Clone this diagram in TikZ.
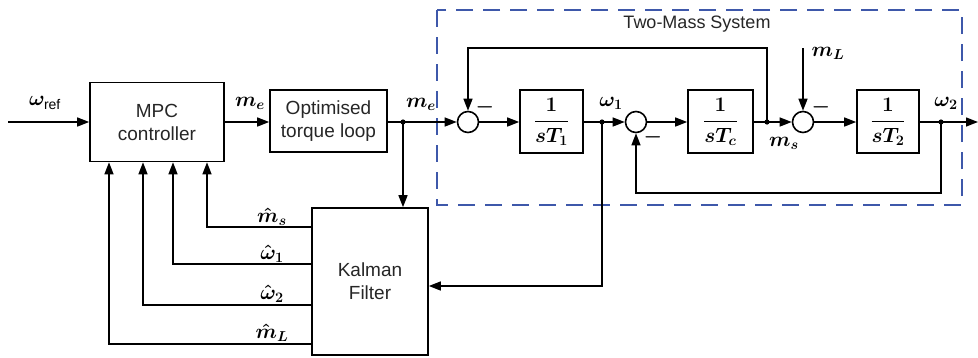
\documentclass[tikz,border=0pt]{standalone}
\usepackage{amsmath,bm}
\usepackage{fontspec}
\setmainfont{Liberation Sans}
\usetikzlibrary{arrows.meta,calc}
\definecolor{dashblue}{RGB}{62,88,170}
\begin{document}
\begin{tikzpicture}[x=1pt,y=-1pt, line width=1.4pt,
  txt/.style={font=\fontsize{19}{23}\selectfont, align=center, text=black!85},
  blk/.style={draw, line width=1.6pt, inner sep=0pt},
  sumc/.style={circle, draw, line width=1.6pt, minimum size=21pt, inner sep=0pt},
  arr/.style={-{Triangle[length=12pt,width=9pt]}},
  lbl/.style={font=\fontsize{20}{22}\selectfont\boldmath, inner sep=0pt},
  frac/.style={font=\fontsize{22}{24}\selectfont\boldmath}]
\useasboundingbox (0,0) rectangle (978,357);

% dashed system boundary
\draw[dashblue, line width=2.4pt, dash pattern=on 17pt off 10pt] (437,10) rectangle (962,205);
\node[txt, font=\fontsize{18}{20}\selectfont] (tms) at (697,24) {Two-Mass System};

% blocks
\node[blk, txt, minimum width=134pt, minimum height=79pt] (mpc) at (157,122) {MPC\\controller};
\node[blk, txt, minimum width=117pt, minimum height=62pt] (opt) at (328.5,121) {Optimised\\torque loop};
\node[blk, txt, minimum width=116pt, minimum height=147pt] (kf) at (370,281.5) {Kalman\\Filter};
\node[blk, frac, minimum width=63pt, minimum height=63pt] (T1) at (551.5,121.5) {$\displaystyle\frac{1}{sT_1}$};
\node[blk, frac, minimum width=65pt, minimum height=63pt] (Tc) at (720.5,121.5) {$\displaystyle\frac{1}{sT_c}$};
\node[blk, frac, minimum width=62pt, minimum height=63pt] (T2) at (888,121.5) {$\displaystyle\frac{1}{sT_2}$};

% summing junctions
\node[sumc] (c1) at (468,122) {};
\node[sumc] (c2) at (636,122) {};
\node[sumc] (c3) at (803,122) {};

% branch points
\coordinate (j1) at (403,122);
\coordinate (j2) at (602,122);
\coordinate (j3) at (767,122);
\coordinate (j4) at (941,122);

% free ends / corners
\coordinate (in) at (8,122);
\coordinate (out) at (978,122);
\coordinate (fb1) at (767,48);
\coordinate (mL) at (803,48);
\coordinate (fb2) at (941,193);
\coordinate (fb3) at (602,286);
\coordinate (k1) at (312,227);
\coordinate (k2) at (312,264);
\coordinate (k3) at (312,305);
\coordinate (k4) at (312,344);

% main path
\draw[arr] (in) -- (mpc.west |- in);
\draw[arr] (mpc.east |- in) -- (opt.west |- in);
\draw (opt.east |- j1) -- (j1);
\draw[arr] (j1) -- (c1);
\draw[arr] (c1) -- (T1.west |- c1);
\draw (T1.east |- j2) -- (j2);
\draw[arr] (j2) -- (c2);
\draw[arr] (c2) -- (Tc.west |- c2);
\draw (Tc.east |- j3) -- (j3);
\draw[arr] (j3) -- (c3);
\draw[arr] (c3) -- (T2.west |- c3);
\draw (T2.east |- j4) -- (j4);
\draw[arr] (j4) -- (out);

% feedback loops
\draw[arr] (j3) -- (fb1) -| (c1.north);
\draw[arr] (mL) -- (c3.north);
\draw[arr] (j4) -- (fb2) -| (c2.south);
\draw[arr] (j2) -- (fb3) -- (fb3 -| kf.east);
\draw[arr] (j1) -- (j1 |- kf.north);

% branch dots
\foreach \j in {j1,j2,j3,j4} \fill (\j) circle (2.6pt);

% Kalman outputs
\draw[arr] (k1) -| (mpc.south -| 207,0);
\draw[arr] (k2) -| (mpc.south -| 173,0);
\draw[arr] (k3) -| (mpc.south -| 143,0);
\draw[arr] (k4) -| (mpc.south -| 109,0);

% signal labels
\node[lbl] (lwref) at (45,103) {$\bm{\omega}_{\text{ref}}$};
\node[lbl] (lmer) at (250,103) {$\bm{m}_{\bm{e}}$};
\node[lbl] (lme) at (421,104) {$\bm{m}_{\bm{e}}$};
\node[lbl] (lw1) at (611,103) {$\bm{\omega}_{\bm{1}}$};
\node[lbl] (lms) at (784,143) {$\bm{m}_{\bm{s}}$};
\node[lbl] (lmL) at (828,53) {$\bm{m}_{\bm{L}}$};
\node[lbl] (lw2) at (946,103) {$\bm{\omega}_{\bm{2}}$};
\node[lbl, anchor=base] (lhms) at (272,222) {$\hat{\bm{m}}_{\bm{s}}$};
\node[lbl, anchor=base] (lhw1) at (272,259) {$\hat{\bm{\omega}}_{\bm{1}}$};
\node[lbl, anchor=base] (lhw2) at (272,299) {$\hat{\bm{\omega}}_{\bm{2}}$};
\node[lbl, anchor=base] (lhmL) at (272,338) {$\hat{\bm{m}}_{\bm{L}}$};

% minus signs
\node[lbl] (s1) at (485,107) {$\bm{-}$};
\node[lbl] (s2) at (653,137) {$\bm{-}$};
\node[lbl] (s3) at (821,107) {$\bm{-}$};
\end{tikzpicture}
\end{document}
